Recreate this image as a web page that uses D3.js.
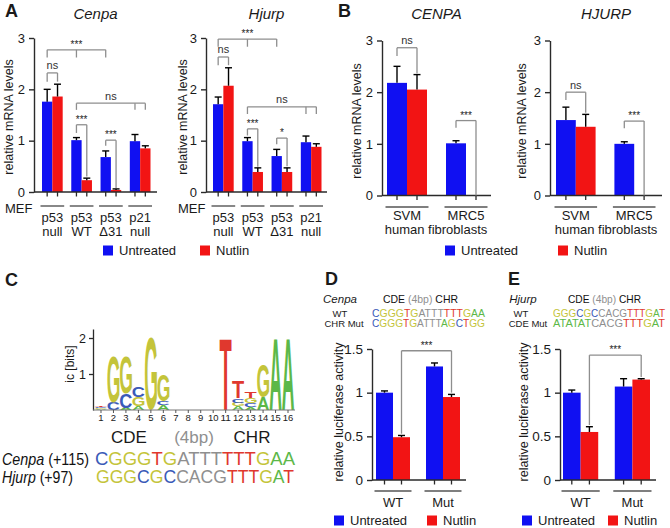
<!DOCTYPE html>
<html><head><meta charset="utf-8">
<script src="https://cdn.jsdelivr.net/npm/d3@7"></script>
<style>
body{margin:0;background:#fff}
svg{display:block}
text{font-family:"Liberation Sans",Arial,Helvetica,sans-serif}
</style>
</head><body>
<svg id="c" width="670" height="528"></svg>
<script>
// ---------------- DATA ----------------
const series = ["Untreated", "Nutlin"];

// Panel A (MEF)
const mefGroups = ["p53 null", "p53 WT", "p53 Δ31", "p21 null"];
const mefLabels = [["p53", "null"], ["p53", "WT"], ["p53", "Δ31"], ["p21", "null"]];
const cenpaUntreated = [1.76, 1.01, 0.68, 0.99];
const cenpaUntreatedErr = [0.24, 0.05, 0.12, 0.13];
const cenpaNutlin = [1.86, 0.23, 0.04, 0.85];
const cenpaNutlinErr = [0.24, 0.04, 0.02, 0.05];
const hjurpUntreated = [1.71, 0.99, 0.70, 0.97];
const hjurpUntreatedErr = [0.14, 0.07, 0.13, 0.12];
const hjurpNutlin = [2.07, 0.39, 0.39, 0.88];
const hjurpNutlinErr = [0.35, 0.08, 0.08, 0.06];

// Panel B (human)
const humanGroups = ["SVM", "MRC5"];
const CENPAUntreated = [2.18, 1.01];
const CENPAUntreatedErr = [0.32, 0.05];
const CENPANutlin = [2.05, 0.0];
const CENPANutlinErr = [0.29, 0.0];
const HJURPUntreated = [1.46, 1.0];
const HJURPUntreatedErr = [0.25, 0.04];
const HJURPNutlin = [1.33, 0.0];
const HJURPNutlinErr = [0.24, 0.0];

// Panels D / E (luciferase)
const lucGroups = ["WT", "Mut"];
const cenpaLucUntreated = [1.0, 1.30];
const cenpaLucUntreatedErr = [0.02, 0.04];
const cenpaLucNutlin = [0.49, 0.95];
const cenpaLucNutlinErr = [0.02, 0.03];
const hjurpLucUntreated = [1.0, 1.07];
const hjurpLucUntreatedErr = [0.03, 0.09];
const hjurpLucNutlin = [0.55, 1.15];
const hjurpLucNutlinErr = [0.06, 0.01];

const mrnaTicks = [0, 1, 2, 3];
const lucTicks = [0, 0.5, 1, 1.5];

// Significance brackets (points = [group, series], top / ends in data units)
const cenpaSig = [
  {pts: [["p53 null","Untreated"],["p53 WT","Untreated"],["p53 Δ31","Untreated"]], top: 2.77, ends: [2.62,2.62,2.62], label: "***"},
  {pts: [["p53 null","Untreated"],["p53 null","Nutlin"]], top: 2.32, ends: [2.15,2.15], label: "ns"},
  {pts: [["p53 WT","Untreated"],["p21 null","Untreated"],["p21 null","Nutlin"]], top: 1.73, ends: [1.6,1.6,1.6], label: "ns"},
  {pts: [["p53 WT","Untreated"],["p53 WT","Nutlin"]], top: 1.31, ends: [1.15,0.3], label: "***"},
  {pts: [["p53 Δ31","Untreated"],["p53 Δ31","Nutlin"]], top: 1.01, ends: [0.9,0.08], label: "***"}
];
const hjurpSig = [
  {pts: [["p53 null","Untreated"],["p53 WT","Untreated"],["p53 Δ31","Untreated"]], top: 2.98, ends: [2.83,2.83,2.83], label: "***"},
  {pts: [["p53 null","Untreated"],["p53 null","Nutlin"]], top: 2.63, ends: [2.47,2.47], label: "ns"},
  {pts: [["p53 WT","Untreated"],["p21 null","Untreated"],["p21 null","Nutlin"]], top: 1.66, ends: [1.52,1.52,1.52], label: "ns"},
  {pts: [["p53 WT","Untreated"],["p53 WT","Nutlin"]], top: 1.23, ends: [1.1,0.49], label: "***"},
  {pts: [["p53 Δ31","Untreated"],["p53 Δ31","Nutlin"]], top: 1.05, ends: [0.93,0.5], label: "*"}
];
const CENPASig = [
  {pts: [["SVM","Untreated"],["SVM","Nutlin"]], top: 2.86, ends: [2.7,2.36], label: "ns"},
  {pts: [["MRC5","Untreated"],["MRC5","Nutlin"]], top: 1.45, ends: [1.31,0], label: "***"}
];
const HJURPSig = [
  {pts: [["SVM","Untreated"],["SVM","Nutlin"]], top: 2.0, ends: [1.85,1.6], label: "ns"},
  {pts: [["MRC5","Untreated"],["MRC5","Nutlin"]], top: 1.44, ends: [1.3,0], label: "***"}
];
const cenpaLucSig = [
  {pts: [["WT","Nutlin"],["Mut","Nutlin"]], top: 1.48, ends: [0.53,1.0], label: "***"}
];
const hjurpLucSig = [
  {pts: [["WT","Nutlin"],["Mut","Nutlin"]], top: 1.43, ends: [0.63,1.18], label: "***"}
];

// Panel C: sequence logo (stacks bottom -> top, [letter, bits])
const logoPositions = d3.range(1, 17);
const logoStacks = [
  [["A",0.03],["G",0.03],["C",0.03],["T",0.04]],
  [["C",0.2],["G",1.27]],
  [["A",0.05],["C",0.4],["G",1.02]],
  [["A",0.1],["G",0.25],["C",0.3]],
  [["G",2.0]],
  [["A",0.15],["C",0.1],["G",0.72]],
  [], [], [], [],
  [["T",2.0]],
  [["A",0.1],["G",0.1],["C",0.12],["T",0.47]],
  [["A",0.08],["C",0.1],["G",0.14],["T",0.17]],
  [["A",0.35],["G",0.9]],
  [["A",2.0]],
  [["A",2.0]]
];
const logoTicks = [1, 2];
const cenpaSeq = "CGGGTGATTTTTTGAA";
const hjurpSeq = "GGGCGCCACGTTTGAT";
const cenpaChrMutSeq = "CGGGTGATTTAGCTGG";
const hjurpCdeMutSeq = "ATATATCACGTTTGAT";

// ---------------- STYLE ----------------
const BLUE = "#1010f2", RED = "#f21414";
const AXIS = "#2a2a2a", BR = "#8e8e8e";
const LETTER = {G: "#c4c43a", C: "#3a5ab8", A: "#5cb848", T: "#e0382e"};
const GRAY = "#8f8f8f";
const svg = d3.select("#c");

function txt(x, y, s, o = {}) {
  const t = svg.append("text").attr("x", x).attr("y", y).text(s)
    .attr("font-size", o.size || 12.5).attr("fill", o.fill || "#1a1a1a")
    .attr("text-anchor", o.anchor || "start");
  if (o.italic) t.attr("font-style", "italic");
  if (o.bold) t.attr("font-weight", "bold");
  if (o.len) t.attr("textLength", o.len).attr("lengthAdjust", "spacingAndGlyphs");
  return t;
}

function barPanel(c) {
  const g = svg.append("g");
  const x0 = d3.scaleBand().domain(c.groups).range([c.barStart, c.barEnd]).paddingInner(c.pIn).paddingOuter(0);
  const x1 = d3.scaleBand().domain(series).range([0, x0.bandwidth()]);
  const y = d3.scaleLinear().domain([0, c.yMax]).range([c.y0, c.yTop]);
  const cx = (gr, s) => x0(gr) + x1(s) + x1.bandwidth() / 2;
  const vals = {Untreated: [c.u, c.ue], Nutlin: [c.n, c.ne]};

  series.forEach(s => {
    g.selectAll(null).data(c.groups).enter().append("rect")
      .attr("x", d => x0(d) + x1(s)).attr("width", x1.bandwidth())
      .attr("y", (d, i) => y(vals[s][0][i]))
      .attr("height", (d, i) => c.y0 - y(vals[s][0][i]))
      .attr("fill", s === "Untreated" ? BLUE : RED);
  });
  series.forEach(s => {
    c.groups.forEach((d, i) => {
      const v = vals[s][0][i], e = vals[s][1][i];
      if (e <= 0) return;
      const xx = cx(d, s);
      g.append("line").attr("x1", xx).attr("x2", xx).attr("y1", y(v)).attr("y2", y(v + e))
        .attr("stroke", "#000").attr("stroke-width", 1.4);
      g.append("line").attr("x1", xx - 3.5).attr("x2", xx + 3.5).attr("y1", y(v + e)).attr("y2", y(v + e))
        .attr("stroke", "#000").attr("stroke-width", 1.4);
    });
  });
  const ya = g.append("g").attr("transform", `translate(${c.axisX},0)`)
    .call(d3.axisLeft(y).tickValues(c.ticks).tickSize(5).tickSizeOuter(0).tickPadding(4).tickFormat(d3.format("")));
  ya.select(".domain").attr("stroke", AXIS).attr("stroke-width", 1.4);
  ya.selectAll(".tick line").attr("stroke", AXIS).attr("stroke-width", 1.4);
  ya.selectAll(".tick text").attr("font-size", c.tickSize || 13).attr("fill", "#1a1a1a")
    .attr("font-family", '"Liberation Sans",Arial,sans-serif');
  g.append("line").attr("x1", c.axisX).attr("x2", c.axisEnd).attr("y1", c.y0).attr("y2", c.y0)
    .attr("stroke", AXIS).attr("stroke-width", 1.4);
  c.groups.forEach(d => series.forEach(s => {
    g.append("line").attr("x1", cx(d, s)).attr("x2", cx(d, s)).attr("y1", c.y0).attr("y2", c.y0 + 4.5)
      .attr("stroke", AXIS).attr("stroke-width", 1.3);
  }));
  c.groups.forEach((d, i) => {
    g.append("line").attr("x1", x0(d) - 1.5).attr("x2", x0(d) + x0.bandwidth() + 1.5)
      .attr("y1", c.underlineY).attr("y2", c.underlineY).attr("stroke", "#555").attr("stroke-width", 1.4);
    c.labels[i].forEach((l, k) => {
      txt(x0(d) + x0.bandwidth() / 2, c.labelY[k], l, {size: 13, anchor: "middle"});
    });
  });
  c.sig.forEach(b => {
    const xs = b.pts.map(p => cx(p[0], p[1]));
    const yt = y(b.top);
    g.append("line").attr("x1", xs[0]).attr("x2", xs[xs.length - 1]).attr("y1", yt).attr("y2", yt)
      .attr("stroke", BR).attr("stroke-width", 1.3);
    xs.forEach((xx, k) => {
      g.append("line").attr("x1", xx).attr("x2", xx).attr("y1", yt).attr("y2", y(b.ends[k]))
        .attr("stroke", BR).attr("stroke-width", 1.3);
    });
    const mx = (xs[0] + xs[xs.length - 1]) / 2;
    if (b.label === "ns") txt(mx, yt - 3.5, "ns", {size: 11, anchor: "middle", fill: "#333"});
    else txt(mx, yt - 2, b.label, {size: 10, anchor: "middle", fill: "#222"});
  });
  txt(0, 0, c.ylabel, {size: 12.5, anchor: "middle"})
    .attr("transform", `translate(${c.ylabelX},${c.ylabelY}) rotate(-90)`);
  if (c.title) txt((c.axisX + c.axisEnd) / 2, 19, c.title, {size: 15, anchor: "middle", italic: true});
  return {x0, x1, y};
}

function legend(x, y, xr) {
  svg.append("rect").attr("x", x).attr("y", y - 9.5).attr("width", 10).attr("height", 10).attr("fill", BLUE);
  txt(x + 16, y, "Untreated", {size: 13});
  svg.append("rect").attr("x", xr).attr("y", y - 9.5).attr("width", 10).attr("height", 10).attr("fill", RED);
  txt(xr + 16, y, "Nutlin", {size: 13});
}

// ---------------- PANEL A ----------------
txt(5, 17, "A", {size: 18, bold: true});
const mefCommon = {groups: mefGroups, labels: mefLabels, pIn: 0.293, y0: 192, yTop: 38, yMax: 3,
  ticks: mrnaTicks, underlineY: 206, labelY: [222, 236], ylabel: "relative mRNA levels", ylabelY: 117};
barPanel(Object.assign({}, mefCommon, {u: cenpaUntreated, ue: cenpaUntreatedErr, n: cenpaNutlin, ne: cenpaNutlinErr,
  axisX: 34, axisEnd: 157, barStart: 42, barEnd: 150.5, sig: cenpaSig, ylabelX: 13, title: "Cenpa"}));
barPanel(Object.assign({}, mefCommon, {u: hjurpUntreated, ue: hjurpUntreatedErr, n: hjurpNutlin, ne: hjurpNutlinErr,
  axisX: 206, axisEnd: 327, barStart: 213, barEnd: 321.5, sig: hjurpSig, ylabelX: 187, title: "Hjurp"}));
txt(5, 213, "MEF", {size: 13});
txt(178, 213, "MEF", {size: 13});
legend(103, 255, 200);

// ---------------- PANEL B ----------------
txt(338, 17, "B", {size: 18, bold: true});
const humCommon = {groups: humanGroups, labels: [["SVM"], ["MRC5"]], pIn: 0.322, y0: 195.5, yTop: 40.5, yMax: 3,
  ticks: mrnaTicks, underlineY: 207, labelY: [220], ylabel: "relative mRNA levels", ylabelY: 121};
barPanel(Object.assign({}, humCommon, {u: CENPAUntreated, ue: CENPAUntreatedErr, n: CENPANutlin, ne: CENPANutlinErr,
  axisX: 382, axisEnd: 491, barStart: 387, barEnd: 486, sig: CENPASig, ylabelX: 361, title: "CENPA"}));
barPanel(Object.assign({}, humCommon, {u: HJURPUntreated, ue: HJURPUntreatedErr, n: HJURPNutlin, ne: HJURPNutlinErr,
  axisX: 550, axisEnd: 662, barStart: 556, barEnd: 654, sig: HJURPSig, ylabelX: 526, title: "HJURP"}));
txt(436, 234, "human fibroblasts", {size: 13, anchor: "middle"});
txt(606, 234, "human fibroblasts", {size: 13, anchor: "middle"});
legend(445, 255, 558);

// ---------------- PANEL C (logo) ----------------
txt(5, 286, "C", {size: 18, bold: true});
const lx = d3.scaleBand().domain(logoPositions).range([95, 294]).paddingInner(0.04);
const ly = d3.scaleLinear().domain([0, 2.25]).range([410, 329]);
const cv = document.createElement("canvas").getContext("2d");
cv.font = 'bold 100px "Liberation Sans"';
const logoG = svg.append("g");
logoStacks.forEach((stack, i) => {
  let cum = 0;
  const pos = logoPositions[i];
  stack.forEach(([L, h]) => {
    const top = ly(cum + h), bot = ly(cum);
    cum += h;
    const m = cv.measureText(L);
    const gw = m.actualBoundingBoxLeft + m.actualBoundingBoxRight;
    const gh = m.actualBoundingBoxAscent + m.actualBoundingBoxDescent;
    const sx = lx.bandwidth() / gw, sy = Math.max(bot - top, 0.3) / gh;
    logoG.append("text").text(L)
      .attr("x", m.actualBoundingBoxLeft).attr("y", m.actualBoundingBoxAscent)
      .attr("font-size", 100).attr("font-weight", "bold").attr("fill", LETTER[L])
      .attr("transform", `translate(${lx(pos)},${top}) scale(${sx},${sy})`);
  });
});
const la = svg.append("g").attr("transform", "translate(93,0)")
  .call(d3.axisLeft(ly).tickValues(logoTicks).tickSize(4).tickSizeOuter(0).tickPadding(3).tickFormat(d3.format("d")));
la.select(".domain").attr("stroke", AXIS).attr("stroke-width", 1.3);
la.selectAll(".tick line").attr("stroke", AXIS).attr("stroke-width", 1.3);
la.selectAll(".tick text").attr("font-size", 12.5).attr("fill", "#1a1a1a").attr("font-family", '"Liberation Sans",Arial,sans-serif');
svg.append("line").attr("x1", 93).attr("x2", 295).attr("y1", 410).attr("y2", 410).attr("stroke", "#777").attr("stroke-width", 1);
logoPositions.forEach(p => {
  const xx = lx(p) + lx.bandwidth() / 2;
  svg.append("line").attr("x1", xx).attr("x2", xx).attr("y1", 410).attr("y2", 413).attr("stroke", "#555");
  txt(xx, 421, String(p), {size: 9.5, anchor: "middle", len: p >= 10 ? 10.5 : null});
});
txt(0, 0, "ic [bits]", {size: 12, anchor: "middle"}).attr("transform", "translate(74,364) rotate(-90)");

txt(129, 443, "CDE", {size: 17, anchor: "middle"});
txt(194, 443, "(4bp)", {size: 17, anchor: "middle", fill: GRAY});
txt(252, 443, "CHR", {size: 17, anchor: "middle"});

function seqColor(ch, i, mutIdx) {
  if (mutIdx && mutIdx.includes(i)) return LETTER.A;
  if (i >= 6 && i <= 9) return GRAY;
  return LETTER[ch];
}
function seq(x, y, s, size, len, mutIdx) {
  const t = svg.append("text").attr("x", x).attr("y", y).attr("font-size", size)
    .attr("textLength", len).attr("lengthAdjust", "spacingAndGlyphs");
  s.split("").forEach((ch, i) => t.append("tspan").text(ch).attr("fill", seqColor(ch, i, mutIdx)));
  return t;
}
{
  const t1 = svg.append("text").attr("x", 2).attr("y", 465).attr("font-size", 17).attr("fill", "#111")
    .attr("textLength", 87).attr("lengthAdjust", "spacingAndGlyphs");
  t1.append("tspan").attr("font-style", "italic").text("Cenpa");
  t1.append("tspan").text(" (+115)");
  const t2 = svg.append("text").attr("x", 2).attr("y", 483).attr("font-size", 17).attr("fill", "#111")
    .attr("textLength", 71).attr("lengthAdjust", "spacingAndGlyphs");
  t2.append("tspan").attr("font-style", "italic").text("Hjurp");
  t2.append("tspan").text(" (+97)");
}
seq(95, 465, cenpaSeq, 18, 200);
seq(96, 483, hjurpSeq, 18, 198);

// ---------------- PANEL D ----------------
txt(325, 285, "D", {size: 18, bold: true});
txt(340, 303, "Cenpa", {size: 11.5, anchor: "middle", italic: true});
{
  const h = svg.append("text").attr("x", 383).attr("y", 303).attr("font-size", 11.5)
    .attr("textLength", 75).attr("lengthAdjust", "spacingAndGlyphs");
  h.append("tspan").text("CDE ").attr("fill", "#111");
  h.append("tspan").text("(4bp) ").attr("fill", GRAY);
  h.append("tspan").text("CHR").attr("fill", "#111");
}
txt(340, 317, "WT", {size: 9.5, anchor: "middle"});
txt(344, 327, "CHR Mut", {size: 9.5, anchor: "middle"});
seq(372, 317, cenpaSeq, 10.5, 113);
seq(372, 327, cenpaChrMutSeq, 10.5, 113);
const lucCommon = {groups: lucGroups, labels: [["WT"], ["Mut"]], pIn: 0.32, y0: 480, yTop: 349, yMax: 1.5,
  ticks: lucTicks, underlineY: 491, labelY: [507], ylabel: "relative luciferase activity", ylabelY: 412, tickSize: 13.5};
barPanel(Object.assign({}, lucCommon, {u: cenpaLucUntreated, ue: cenpaLucUntreatedErr, n: cenpaLucNutlin, ne: cenpaLucNutlinErr,
  axisX: 372, axisEnd: 466, barStart: 376, barEnd: 460, sig: cenpaLucSig, ylabelX: 343}));
legend(334, 525, 427);

// ---------------- PANEL E ----------------
txt(508, 285, "E", {size: 18, bold: true});
txt(523, 303, "Hjurp", {size: 11.5, anchor: "middle", italic: true});
{
  const h = svg.append("text").attr("x", 568).attr("y", 303).attr("font-size", 11.5)
    .attr("textLength", 73).attr("lengthAdjust", "spacingAndGlyphs");
  h.append("tspan").text("CDE ").attr("fill", "#111");
  h.append("tspan").text("(4bp) ").attr("fill", GRAY);
  h.append("tspan").text("CHR").attr("fill", "#111");
}
txt(521, 317, "WT", {size: 9.5, anchor: "middle"});
txt(528, 327, "CDE Mut", {size: 9.5, anchor: "middle"});
seq(553, 317, hjurpSeq, 10.5, 112);
seq(553, 327, hjurpCdeMutSeq, 10.5, 112, [0, 1, 2, 3, 4, 5]);
barPanel(Object.assign({}, lucCommon, {u: hjurpLucUntreated, ue: hjurpLucUntreatedErr, n: hjurpLucNutlin, ne: hjurpLucNutlinErr,
  axisX: 560, axisEnd: 656, barStart: 563, barEnd: 650, sig: hjurpLucSig, ylabelX: 528}));
legend(522, 525, 608);
</script>
</body></html>
